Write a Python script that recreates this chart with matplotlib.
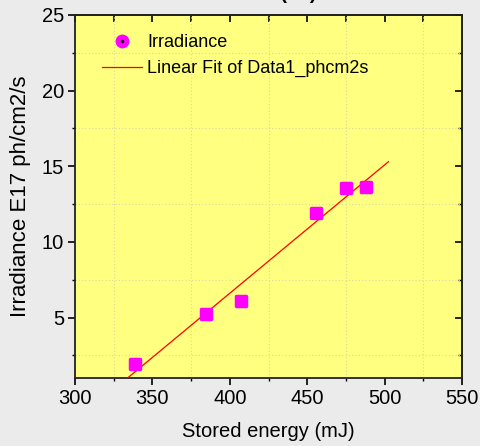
import numpy as np
import matplotlib.pyplot as plt
from matplotlib.lines import Line2D
from matplotlib.markers import MarkerStyle
from matplotlib.legend_handler import HandlerTuple
from matplotlib.ticker import MultipleLocator

plt.rcParams['font.family'] = ['Liberation Sans', 'DejaVu Sans']

# stored energy (mJ) vs irradiance (E17 ph/cm2/s)
energy = [338.8, 384.6, 407.0, 455.7, 474.9, 487.8]
irradiance = [1.9, 5.2, 6.1, 11.9, 13.55, 13.6]
fit_range = [330, 502.5]

slope, intercept = np.polyfit(energy, irradiance, 1)
fit_x = np.array(fit_range)
fit_y = slope * fit_x + intercept

fig = plt.figure(figsize=(4.81, 4.46), dpi=100, facecolor='#ebebeb')
ax = fig.add_axes([75 / 481, 1 - 378 / 446, 387 / 481, 363 / 446])
ax.set_facecolor('#ffff80')

ax.plot(fit_x, fit_y, color='red', lw=0.9, zorder=3)
sq = MarkerStyle('s', joinstyle='round')
ax.plot(energy, irradiance, ls='none', marker=sq, ms=6.5, color='#ff00ff',
        mec='#ff00ff', mew=2.5, zorder=4)

ax.set_xlim(300, 550)
ax.set_ylim(1, 25)
ax.xaxis.set_major_locator(MultipleLocator(50))
ax.xaxis.set_minor_locator(MultipleLocator(25))
ax.yaxis.set_major_locator(MultipleLocator(5))
ax.yaxis.set_minor_locator(MultipleLocator(2.5))

ax.grid(which='minor', color='#d8d8a0', ls=(0, (1, 2)), lw=0.8)
ax.set_axisbelow(True)

ax.tick_params(which='major', direction='out', length=5, width=1.2,
               labelsize=14.5, pad=3, top=False, right=False)
ax.tick_params(which='minor', direction='out', length=2.5, width=1.0,
               top=False, right=False)
for sp in ax.spines.values():
    sp.set_linewidth(1.3)
    sp.set_color('#222222')

# inward ticks on the top and right edges
secx = ax.secondary_xaxis('top')
secx.xaxis.set_major_locator(MultipleLocator(25))
secx.tick_params(direction='in', length=5, width=1.2, labeltop=False)
secx.set_xticklabels([])
secy = ax.secondary_yaxis('right')
secy.yaxis.set_major_locator(MultipleLocator(5))
secy.yaxis.set_minor_locator(MultipleLocator(2.5))
secy.tick_params(which='major', direction='in', length=5, width=1.2, labelright=False)
secy.tick_params(which='minor', direction='in', length=3, width=1.0)
secy.set_yticklabels([])
for s in (secx, secy):
    for sp in s.spines.values():
        sp.set_linewidth(1.3)
        sp.set_color('#222222')

ax.set_xlabel('Stored energy (mJ)', fontsize=14.5, labelpad=10)
ax.set_ylabel('Irradiance E17 ph/cm2/s', fontsize=16, labelpad=8)
fig.text(0.567, 1.012, 'Time (ns)', fontsize=14, fontweight='bold',
         ha='center', va='center')

dot_handle = (Line2D([], [], ls='none', marker='o', ms=9, color='#ff00ff'),
              Line2D([], [], ls='none', marker='o', ms=1.5, color='black'))
fit_handle = Line2D([], [], color='red', lw=0.9)
ax.legend([dot_handle, fit_handle],
          ['Irradiance', 'Linear Fit of Data1_phcm2s'],
          handler_map={tuple: HandlerTuple(ndivide=1)},
          loc='upper left', bbox_to_anchor=(0.052, 0.967), frameon=False,
          fontsize=13, handlelength=2.2, handletextpad=0.3,
          labelspacing=0.5, borderaxespad=0)

fig.savefig('out.png', dpi=100, facecolor=fig.get_facecolor())
